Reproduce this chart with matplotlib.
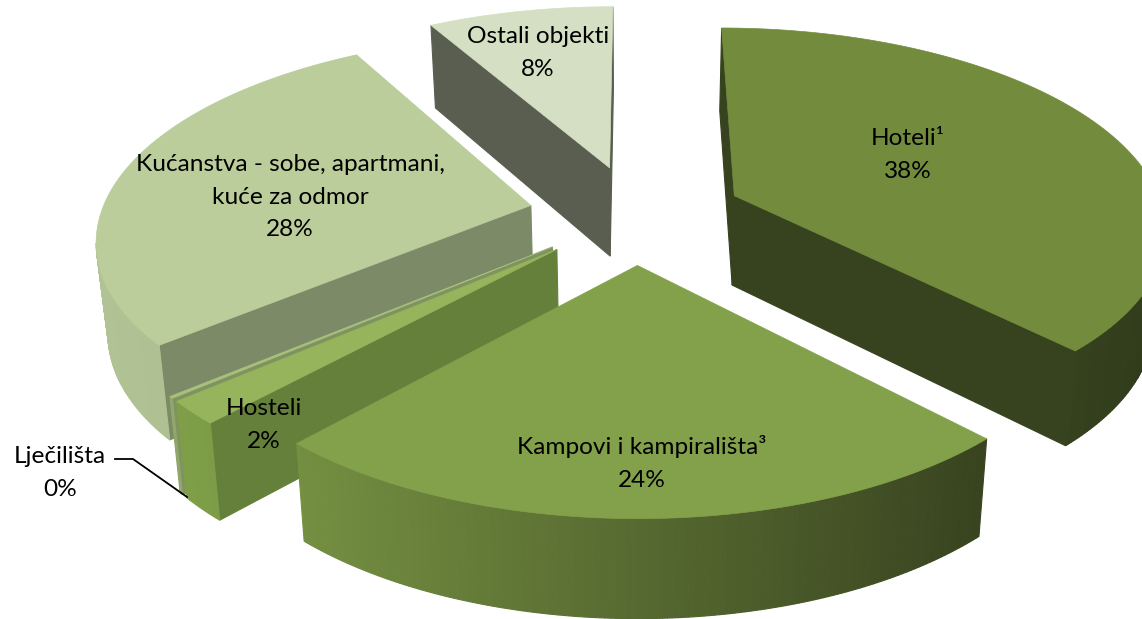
import numpy as np
import matplotlib
matplotlib.use("Agg")
import matplotlib.pyplot as plt
from matplotlib.colors import to_rgb

names = ["Hoteli¹", "Kampovi i kampirališta³", "Hosteli", "Lječilišta", "Kućanstva - sobe, apartmani,\nkuće za odmor", "Ostali objekti"]
shares = [37.8, 24, 1.85, 0.15, 28, 8.2]
percent_text = ["38%", "24%", "2%", "0%", "28%", "8%"]

top_colors = ["#728B3D", "#83A04B", "#95B45C", "#A9C07C", "#BACD9B", "#D4DFC3"]
cut_colors = ["#36431E", "#6A8338", "#65803A", "#7F9360", "#7C8A68", "#595E50"]
rim_left = ["#4A5C27", "#748F41", "#7F9E48", "#8FA76A", "#B1C394", "#C8D3B6"]
rim_right = ["#303B1B", "#38431F", "#6D883D", "#8FA76A", "#A2B286", "#C8D3B6"]
draw_order = [5, 4, 3, 2, 0, 1]
label_pos = [(908, 155), (642, 463), (264, 425), (60, 473), (290, 197), (538, 53)]

# projection of the tilted pie
cx, cy = 636, 214
ax_u, ax_v = 430, 198
persp = 0.15
height = 90
explode = 0.25


def project(u, v, z=0.0):
	d = 1 + persp * v
	# vertical edges lean towards the middle going down
	x = cx + ax_u * u / d * (1 - 0.022 * z)
	y = cy - ax_v * v / d + z * height / (1 + 0.08 * v)
	return x, y


fracs = np.array(shares) / sum(shares)
edges = np.concatenate([[0], np.cumsum(fracs)]) * 2 * np.pi

fig = plt.figure(figsize=(11.42, 6.19), dpi=100)
ax = fig.add_axes([0, 0, 1, 1])
ax.set_xlim(0, 1142)
ax.set_ylim(619, 0)
ax.axis("off")

for i in draw_order:
	t0, t1 = edges[i], edges[i + 1]
	mid = (t0 + t1) / 2
	ou, ov = explode * np.sin(mid), explode * np.cos(mid)
	ts = np.linspace(t0, t1, max(int((t1 - t0) * 100), 4))
	us = np.concatenate([[ou], ou + np.sin(ts)])
	vs = np.concatenate([[ov], ov + np.cos(ts)])
	tx, ty = project(us, vs)
	bx, by = project(us, vs, 1.0)
	n = len(tx)
	xmin, xmax = tx.min(), tx.max()
	# sides, only those that face the viewer
	for j in range(n):
		k = (j + 1) % n
		dx = tx[k] - tx[j]
		if dx >= 0:
			continue
		if j == 0 or j == n - 1:
			col = cut_colors[i]
		else:
			f = (0.5 * (tx[j] + tx[k]) - xmin) / max(xmax - xmin, 1)
			col = np.array(to_rgb(rim_left[i])) * (1 - f) + np.array(to_rgb(rim_right[i])) * f
		ax.fill([tx[j], tx[k], bx[k], bx[j]], [ty[j], ty[k], by[k], by[j]], color=col, lw=0.8)
	ax.fill(tx, ty, color=top_colors[i], lw=0.5)

for i, (x, y) in enumerate(label_pos):
	ax.text(x, y, names[i] + "\n" + percent_text[i], ha="center", va="center", fontsize=17.6,
		family="Lato", color="black", linespacing=1.68)

ax.plot([115, 133, 187], [459, 459, 497], color="black", lw=1.3)

fig.savefig("out.png", dpi=100)
